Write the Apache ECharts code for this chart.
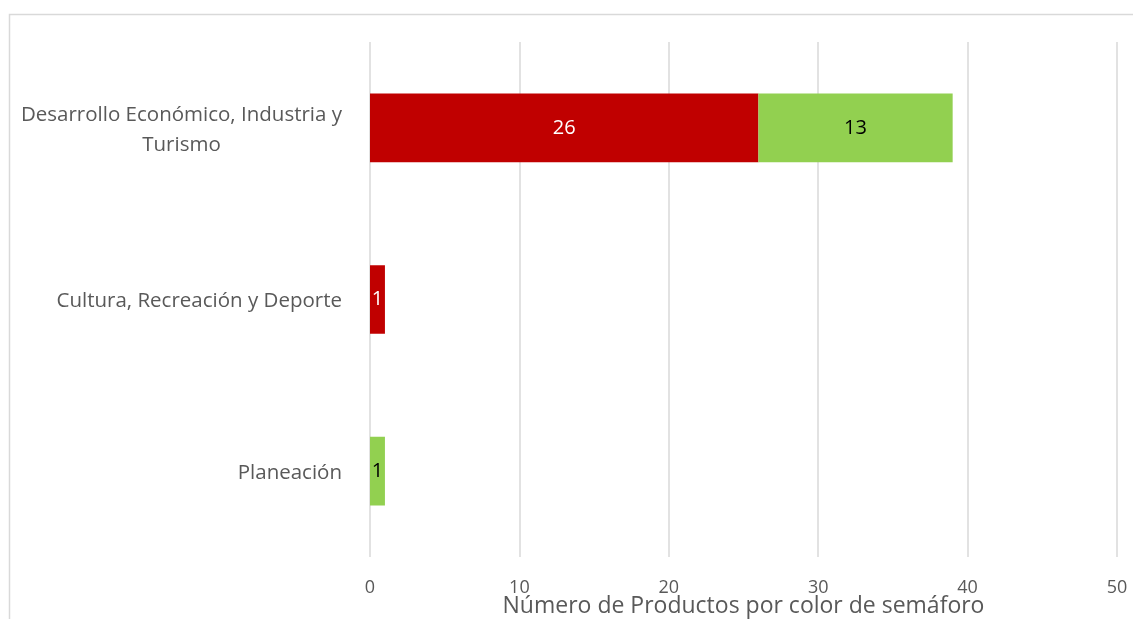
<!DOCTYPE html>
<html><head><meta charset="utf-8">
<script src="https://cdn.jsdelivr.net/npm/echarts@6/dist/echarts.min.js"></script>
<style>html,body{margin:0;padding:0;background:#fff}#c{width:1133px;height:619px}</style>
</head><body><div id="c"></div>
<script>
const categories = ['Planeación', 'Cultura, Recreación y Deporte', 'Desarrollo Económico, Industria y\nTurismo'];
const redValues = [0, 1, 26];
const greenValues = [1, 0, 13];
const axisName = 'Número de Productos por color de semáforo';
const FONT = 'Open Sans';
const chart = echarts.init(document.getElementById('c'));
chart.setOption({
  animation: false,
  textStyle: { fontFamily: FONT },
  graphic: [{ type: 'rect', left: 7, top: 12, shape: { width: 1140, height: 620 }, style: { fill: 'none', stroke: '#D9D9D9', lineWidth: 1.5 }, silent: true }],
  grid: { left: 370, right: 16, top: 42, bottom: 62, containLabel: false, outerBoundsMode: 'none' },
  xAxis: {
    type: 'value', min: 0, max: 50, interval: 10,
    axisLine: { show: false }, axisTick: { show: false },
    splitLine: { lineStyle: { color: '#D9D9D9', width: 1.5 } },
    axisLabel: { color: '#595959', fontSize: 18, margin: 22, fontFamily: FONT },
    name: axisName, nameLocation: 'middle', nameGap: 38, nameMoveOverlap: false,
    nameTextStyle: { color: '#595959', fontSize: 23, fontFamily: FONT }
  },
  yAxis: {
    type: 'category', data: categories,
    axisLine: { show: false }, axisTick: { show: false },
    axisLabel: {
      margin: 28, align: 'right', padding: [4, 0, 0, 0],
      formatter: v => '{a|' + v.split('\n').join('}\n{a|') + '}',
      rich: { a: { color: '#595959', fontSize: 20.5, lineHeight: 30, align: 'center', fontFamily: FONT } }
    }
  },
  series: [
    { type: 'bar', stack: 's', data: redValues, barCategoryGap: '60%',
      itemStyle: { color: '#C00000' },
      label: { show: true, position: 'inside', color: '#FFFFFF', fontSize: 20, fontFamily: FONT, formatter: p => p.value ? p.value : '' } },
    { type: 'bar', stack: 's', data: greenValues, barCategoryGap: '60%',
      itemStyle: { color: '#92D050' },
      label: { show: true, position: 'inside', color: '#000000', fontSize: 20, fontFamily: FONT, formatter: p => p.value ? p.value : '' } }
  ]
});
</script></body></html>
